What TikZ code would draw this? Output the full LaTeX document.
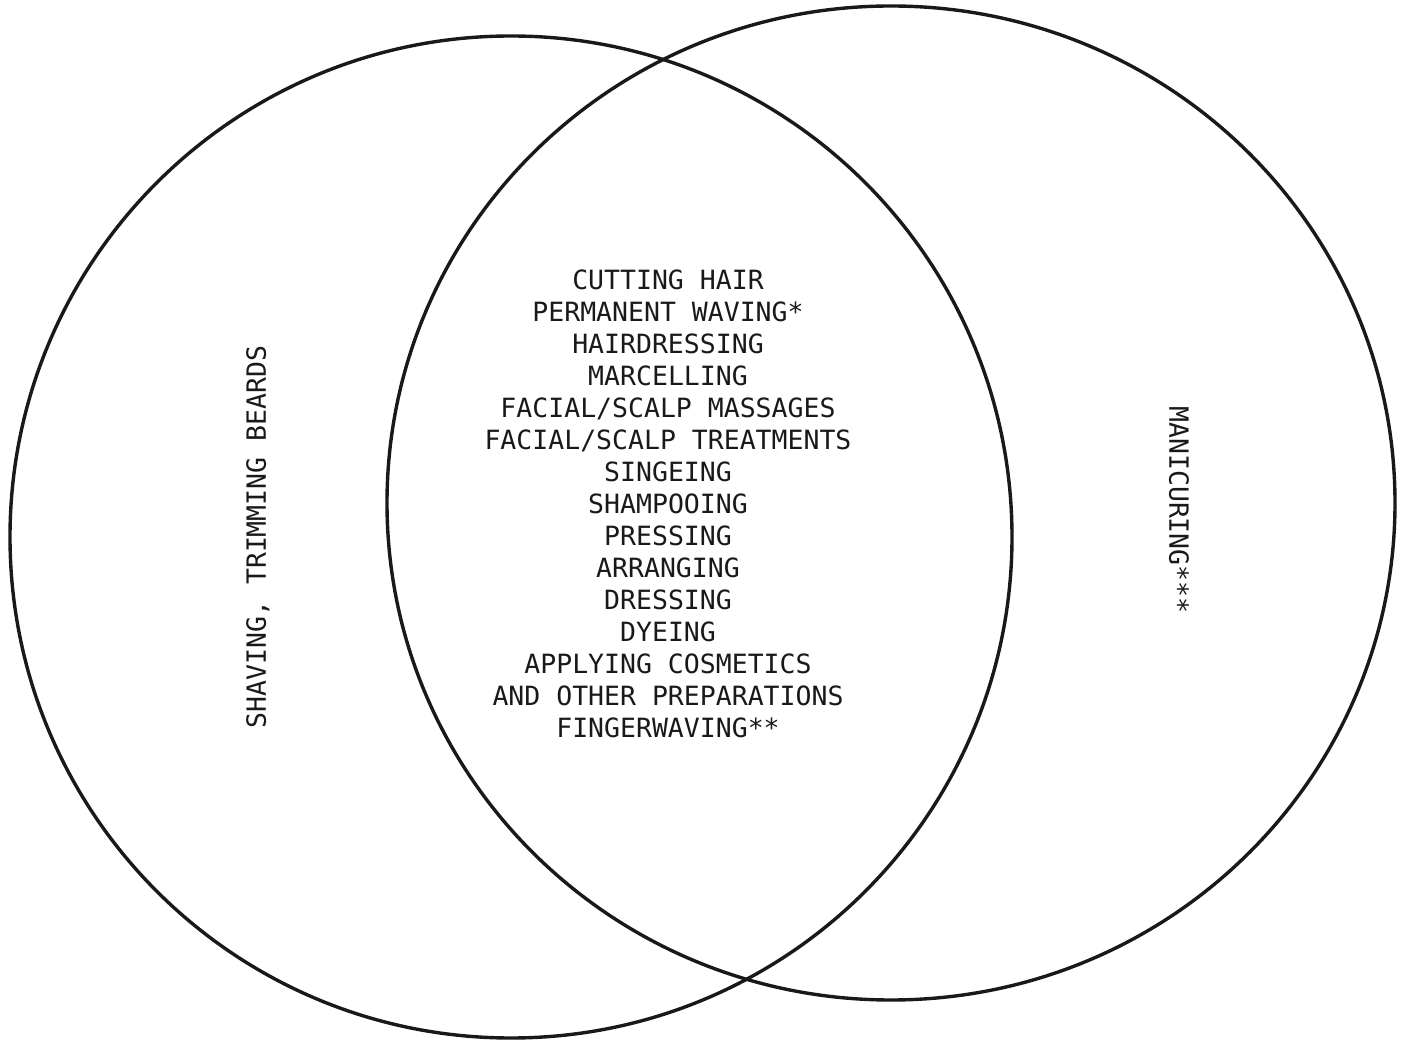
\documentclass[tikz,border=0pt]{standalone}
\usepackage{fontspec}
\newfontfamily\typer{DejaVu Sans Mono}
\usetikzlibrary{positioning}

\begin{document}
\begin{tikzpicture}
    [x=1pt,y=1pt,
     set/.style={line width=3.4pt,draw=black!90},
     lbl/.style={font=\typer\fontsize{26.5}{32}\selectfont,
                 inner sep=0,text=black!90}]
    \useasboundingbox (0,0) rectangle (1402,1039);

    % barbers on the left, cosmetologists on the right
    \draw[set] (511,502) ellipse [x radius=501,y radius=501];
    \draw[set] (891,536) ellipse [x radius=504,y radius=497];

    \node[lbl,rotate=90] (barber) at (258,502) {SHAVING, TRIMMING BEARDS};
    \node[lbl,rotate=-90] (cosmo) at (1179,529) {MANICURING***};

    \node[lbl,align=center] (both) at (668,535)
      {CUTTING HAIR\\
       PERMANENT WAVING*\\
       HAIRDRESSING\\
       MARCELLING\\
       FACIAL/SCALP MASSAGES\\
       FACIAL/SCALP TREATMENTS\\
       SINGEING\\
       SHAMPOOING\\
       PRESSING\\
       ARRANGING\\
       DRESSING\\
       DYEING\\
       APPLYING COSMETICS\\
       AND OTHER PREPARATIONS\\
       FINGERWAVING**};
\end{tikzpicture}
\end{document}
